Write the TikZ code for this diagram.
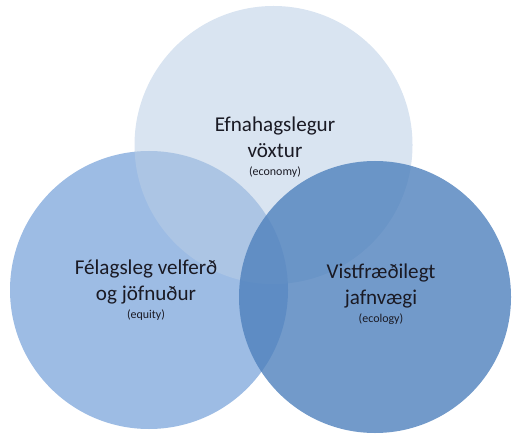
\documentclass[tikz,border=0pt]{standalone}
\usepackage{fontspec}
\setmainfont{Carlito}
\definecolor{leftblue}{HTML}{9DBCE4}
\definecolor{topblue}{HTML}{B9CDE5}
\definecolor{rightblue}{HTML}{4F81BD}
\definecolor{labeltext}{HTML}{1A1A24}
\tikzset{vennlabel/.style={align=center,text=labeltext,font=\fontsize{15}{18.5}\selectfont}}
\newcommand{\venngloss}[1]{{\fontsize{8.5}{10}\selectfont #1}}

\begin{document}
\begin{tikzpicture}
\useasboundingbox (0,0) rectangle (12.8,10.825);
\fill [leftblue] (3.725,3.575) circle (3.475);
\fill [topblue,fill opacity=0.55] (6.8375,7.2) circle (3.475);
\fill [rightblue,fill opacity=0.8] (9.375,3.4) circle (3.4);
\node [vennlabel] (econ) at (6.875,7.15) {Efnahagslegur\\vöxtur\\[-6pt]\venngloss{(economy)}};
\node [vennlabel] (equity) at (3.65,3.575) {Félagsleg velferð\\og jöfnuður\\[-6pt]\venngloss{(equity)}};
\node [vennlabel] (ecol) at (9.525,3.475) {Vistfræðilegt\\jafnvægi\\[-6pt]\venngloss{(ecology)}};
\end{tikzpicture}
\end{document}
